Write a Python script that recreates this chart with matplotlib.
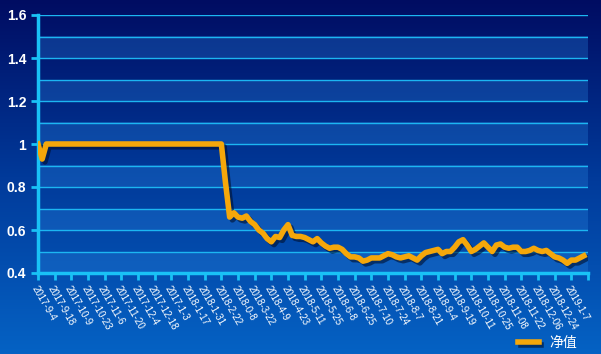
import matplotlib.pyplot as plt
import matplotlib.patheffects as pe
import numpy as np
from matplotlib.colors import LinearSegmentedColormap

plt.rcParams['font.family'] = ['Liberation Sans', 'Noto Sans CJK SC', 'DejaVu Sans']

# tick labels on the x axis (as shown on the chart)
dates = ['2017-9-4', '2017-9-18', '2017-10-9', '2017-10-23', '2017-11-6', '2017-11-20',
         '2017-12-4', '2017-12-18', '2017-1-3', '2018-1-17', '2018-1-31', '2018-2-22',
         '2018-0-8', '2018-3-22', '2018-4-9', '2018-4-23', '2018-5-11', '2018-5-25',
         '2018-6-8', '2018-6-25', '2018-7-10', '2018-7-24', '2018-8-7', '2018-8-21',
         '2018-9-4', '2018-9-19', '2018-10-11', '2018-10-25', '2018-11-08', '2018-11-22',
         '2018-12-06', '2018-12-24', '2019-1-7']

# net value, 4 readings per label interval
nav = [1.0, 0.93] + [1.0] * 43 + [
    0.82, 0.66, 0.68, 0.66, 0.655, 0.665, 0.64, 0.625, 0.60, 0.585,
    0.56, 0.545, 0.57, 0.565, 0.60, 0.625, 0.575, 0.57, 0.57, 0.565,
    0.555, 0.545, 0.56, 0.54, 0.525, 0.515, 0.52, 0.52, 0.51, 0.49,
    0.475, 0.475, 0.47, 0.455, 0.46, 0.47, 0.47, 0.47, 0.48, 0.49,
    0.485, 0.475, 0.47, 0.475, 0.48, 0.47, 0.46, 0.48, 0.495, 0.50,
    0.505, 0.51, 0.49, 0.50, 0.50, 0.52, 0.545, 0.555, 0.53, 0.50,
    0.51, 0.525, 0.54, 0.52, 0.50, 0.53, 0.535, 0.52, 0.515, 0.52,
    0.52, 0.50, 0.50, 0.505, 0.515, 0.505, 0.50, 0.505, 0.49, 0.475,
    0.47, 0.46, 0.445, 0.46, 0.46, 0.47, 0.48]
x = np.arange(len(nav)) / 4.0

fig = plt.figure(figsize=(6.01, 3.54), dpi=100)

# background gradient
bg = fig.add_axes([0, 0, 1, 1])
grad = np.linspace(0, 1, 256).reshape(-1, 1)
cmap = LinearSegmentedColormap.from_list('bg', ['#000c62', '#013a9a', '#0562c4'])
bg.imshow(grad, aspect='auto', cmap=cmap, extent=[0, 1, 0, 1])
bg.axis('off')

ax = fig.add_axes([38 / 601, 81 / 354, 550 / 601, 258 / 354])
ax.patch.set_alpha(0)

# alternating bands
for lo in np.arange(0.4, 1.6, 0.2):
    ax.axhspan(lo, lo + 0.1, color='#2a86e0', alpha=0.3, lw=0, zorder=0)
for g in np.arange(0.5, 1.61, 0.1):
    ax.axhline(g, color='#1cb6f2', lw=1, zorder=1)

ax.plot(x, nav, color='#f5a70a', lw=4, solid_joinstyle='round', zorder=3, label='净值',
        path_effects=[pe.SimpleLineShadow(offset=(2, -2), shadow_color='#001030', alpha=0.6),
                      pe.Normal()])

ax.set_xlim(0, 33)
ax.set_ylim(0.4, 1.6)
ax.set_yticks([0.4, 0.6, 0.8, 1.0, 1.2, 1.4, 1.6])
ax.set_yticklabels(['0.4', '0.6', '0.8', '1', '1.2', '1.4', '1.6'])
ax.set_xticks(np.arange(34))
ax.set_xticklabels(dates + [''], rotation=-60, ha='left', va='top',
                   rotation_mode='anchor', fontsize=7, color='white')
for s in ['top', 'right']:
    ax.spines[s].set_visible(False)
for s in ['left', 'bottom']:
    ax.spines[s].set_color('#19c2f6')
    ax.spines[s].set_linewidth(2.5)
ax.tick_params(axis='both', colors='#19c2f6', length=5, width=2)
ax.tick_params(axis='y', labelcolor='white', labelsize=10)
ax.tick_params(axis='x', labelcolor='white', pad=3)
for t in ax.get_yticklabels():
    t.set_fontweight('bold')

leg = ax.legend(loc='center right', bbox_to_anchor=(590 / 601, 11 / 354),
                bbox_transform=fig.transFigure, frameon=False, fontsize=10,
                handlelength=1.5, labelcolor='white')

fig.savefig('out.png', dpi=100)
